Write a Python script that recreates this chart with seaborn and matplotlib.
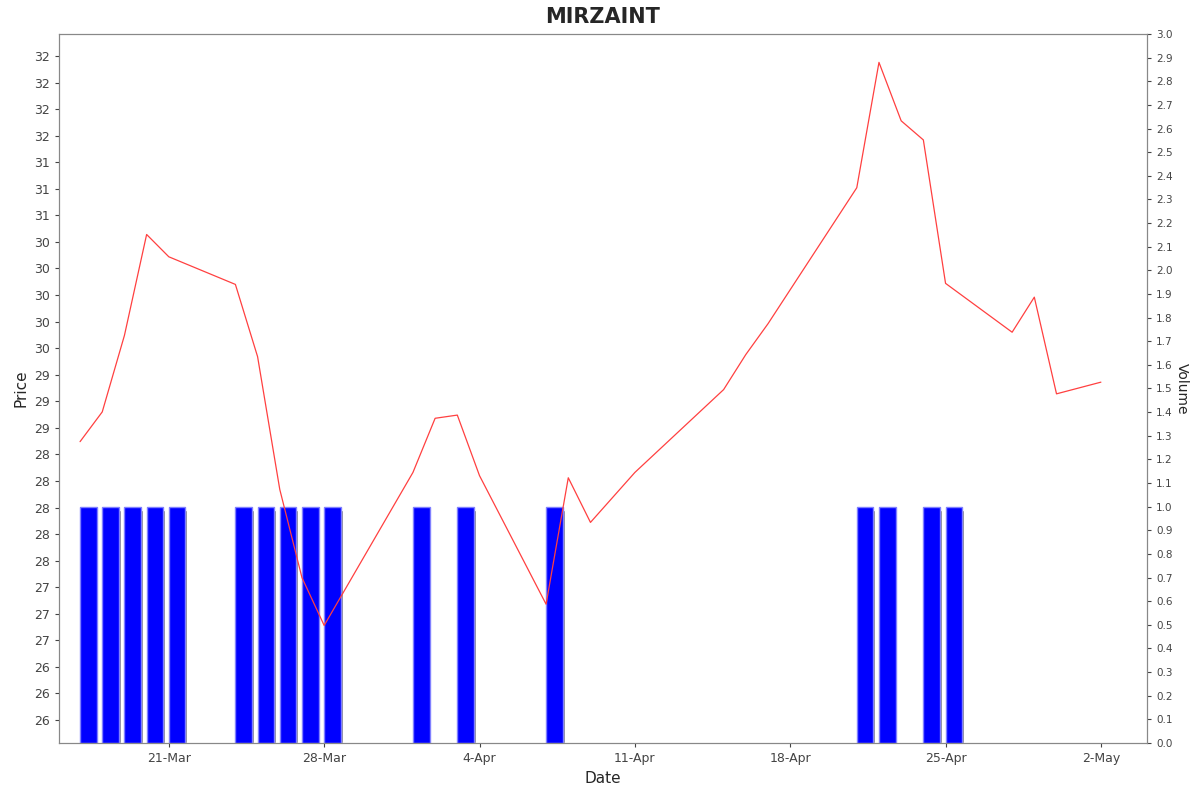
import matplotlib
matplotlib.use("Agg")
import matplotlib.pyplot as plt
import matplotlib.dates as mdates
import seaborn as sns
import pandas as pd
import numpy as np

price_dates = ["2025-03-17","2025-03-18","2025-03-19","2025-03-20","2025-03-21","2025-03-24","2025-03-25",
               "2025-03-26","2025-03-27","2025-03-28","2025-04-01","2025-04-02","2025-04-03","2025-04-04",
               "2025-04-07","2025-04-08","2025-04-09","2025-04-11","2025-04-15","2025-04-16","2025-04-17",
               "2025-04-21","2025-04-22","2025-04-23","2025-04-24","2025-04-25","2025-04-28","2025-04-29",
               "2025-04-30","2025-05-02"]
prices = [28.62,28.90,29.62,30.57,30.36,30.10,29.42,28.17,27.34,26.89,28.33,28.84,28.87,28.30,
          27.09,28.28,27.86,28.33,29.11,29.44,29.73,31.01,32.19,31.64,31.46,30.11,29.65,29.98,29.07,29.18]
vol_dates = ["2025-03-17","2025-03-18","2025-03-19","2025-03-20","2025-03-21","2025-03-24","2025-03-25",
             "2025-03-26","2025-03-27","2025-03-28","2025-04-01","2025-04-03","2025-04-07",
             "2025-04-21","2025-04-22","2025-04-24","2025-04-25"]
volumes = [1.0]*len(vol_dates)
price_tick_labels = ["26","26","26","27","27","27","28","28","28","28","28","29","29","29",
                     "30","30","30","30","30","31","31","31","32","32","32","32"]
xtick_dates = ["2025-03-21","2025-03-28","2025-04-04","2025-04-11","2025-04-18","2025-04-25","2025-05-02"]
xtick_labels = ["21-Mar","28-Mar","4-Apr","11-Apr","18-Apr","25-Apr","2-May"]

sns.set_style("white")
fig = plt.figure(figsize=(12, 7.92), dpi=100)
ax = fig.add_axes([59/1200, 49/792, 1088/1200, 709/792])
ax2 = ax.twinx()

pdf = pd.DataFrame({"date": pd.to_datetime(price_dates), "price": prices})
vdf = pd.DataFrame({"date": pd.to_datetime(vol_dates), "vol": volumes})

vx = mdates.date2num(vdf["date"])
ax2.bar(vx + 0.08, np.array(volumes) * 0.985, width=0.75, align="edge", color="#808080", zorder=1)
ax2.bar(vx, volumes, width=0.75, align="edge", color="#0000ff", edgecolor="#8080ff", linewidth=1, zorder=2)
ax2.set_ylim(0, 3.0)
ax2.set_yticks(np.round(np.arange(0, 3.01, 0.1), 1))
ax2.set_yticklabels([f"{v:.1f}" for v in np.arange(0, 3.01, 0.1)], fontsize=7.5)
ax2.set_ylabel("Volume", rotation=270, labelpad=12, fontsize=10)

sns.lineplot(data=pdf, x="date", y="price", ax=ax, color="#ff4040", linewidth=0.9)
ax.set_zorder(ax2.get_zorder() + 1)
ax.patch.set_visible(False)

step = 0.25
ax.set_ylim(26 - 23 / 26.56 * step, 26 + 686 / 26.56 * step)
ax.set_yticks([26 + i * step for i in range(len(price_tick_labels))])
ax.set_yticklabels(price_tick_labels, fontsize=9)
x0 = mdates.date2num(pd.Timestamp("2025-03-17"))
ax.set_xlim(x0 - 21 / 22.14, x0 + 46 + 46 / 22.14)
ax.set_xticks(mdates.date2num(pd.to_datetime(xtick_dates)))
ax.set_xticklabels(xtick_labels, fontsize=9)
ax.set_xlabel("Date", fontsize=11)
ax.set_ylabel("Price", fontsize=11)
for a in (ax, ax2):
    a.tick_params(length=3, colors="#444444", direction="out")
    a.tick_params(axis="both", which="both", left=(a is ax), right=(a is ax2), bottom=(a is ax))
    for s in a.spines.values():
        s.set_color("#888888"); s.set_linewidth(0.8)
ax.set_title("MIRZAINT", fontsize=15, fontweight="bold", pad=8)
fig.savefig("out.png", dpi=100)
